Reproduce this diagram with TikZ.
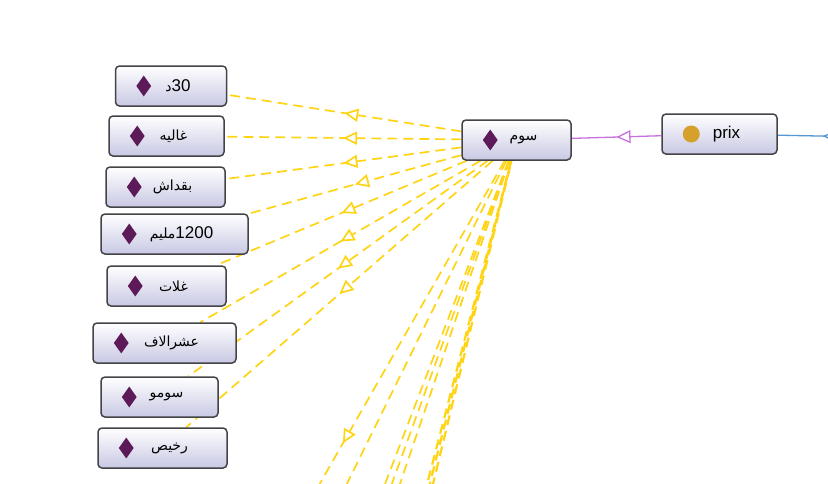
\documentclass[tikz,border=0pt]{standalone}
\usepackage{fontspec}
\setmainfont{Liberation Sans}
\newfontfamily\arabicfont[Script=Arabic]{DejaVu Sans}
\TeXXeTstate=1
\usetikzlibrary{arrows.meta,shapes.geometric,decorations.markings,backgrounds}
\definecolor{boxBorder}{RGB}{68,68,72}
\definecolor{boxBottom}{RGB}{200,200,228}
\definecolor{gemPurple}{RGB}{92,26,88}
\definecolor{dotGold}{RGB}{214,160,44}
\definecolor{instYellow}{RGB}{255,212,20}
\definecolor{subViolet}{RGB}{200,112,224}
\definecolor{propBlue}{RGB}{88,150,210}
\newcommand{\arlabel}[1]{{\arabicfont\fontsize{14}{16}\selectfont\beginR #1\endR}}
\newcommand{\ardigits}[1]{\beginL{\rmfamily\fontsize{17}{19}\selectfont #1}\endL}

\begin{document}
\begin{tikzpicture}[x=1pt,y=-1pt,
  ontobox/.style={draw=boxBorder,line width=1.5pt,rounded corners=4pt,top color=white,bottom color=boxBottom,minimum height=40pt,inner xsep=0pt,font=\fontsize{17}{19}\selectfont},
  gem/.style={diamond,fill=gemPurple,minimum width=15pt,minimum height=21pt,inner sep=0pt},
  golddot/.style={circle,fill=dotGold,minimum size=17pt,inner sep=0pt},
  midtip/.style={postaction={decorate},decoration={markings,mark=at position 0.5 with {\arrow{Triangle[open,fill=white,length=14pt,width=13pt]}}}},
  instedge/.style={instYellow,line width=1.7pt,dash pattern=on 10pt off 6pt,midtip}]
  \useasboundingbox (0,0) rectangle (828,483);
  % individuals on the left
  \foreach \n/\x/\y/\w/\lbl in {
      d30/171/86/111/{\ardigits{30}د},
      ghalia/166.5/136/115/{غاليه},
      bqadash/165.5/187/119/{بقداش},
      mlim/174.5/234/147/{\ardigits{1200}مليم},
      ghlat/166.5/286/119/{غلات},
      ashra/164.5/343/143/{عشرالاف},
      somo/159.5/397/117/{سومو},
      rkhis/162.5/448/129/{رخيص}}{
    \node[ontobox,minimum width=\w pt] (\n) at (\x,\y) {\hspace*{14pt}\arlabel{\lbl}};
    \node[gem] (\n-gem) at ([xshift=29pt]\n.west) {};
  }
  \node[ontobox,minimum width=109pt] (som) at (516.5,140) {\hspace*{14pt}\arlabel{سوم}};
  \node[gem] (som-gem) at ([xshift=29pt]som.west) {};
  \node[ontobox,minimum width=115pt] (prix) at (719.5,134) {\hspace*{14pt}prix};
  \node[golddot] (prix-dot) at ([xshift=30pt]prix.west) {};
  % free ends below and right of the frame
  \coordinate (offA) at (181,726);
  \coordinate (offB) at (144,895);
  \coordinate (offC1) at (226,900);
  \coordinate (offC2) at (241,900);
  \coordinate (offC3) at (259,900);
  \coordinate (offD1) at (319,900);
  \coordinate (offD2) at (325,900);
  \coordinate (offD3) at (332,900);
  \coordinate (offR) at (868,137);
  \begin{scope}[on background layer]
    \clip (0,0) rectangle (828,483);
    \foreach \n in {d30,ghalia,bqadash,mlim,ghlat,ashra,somo,rkhis,offA,offB,offC1,offC2,offC3}
      \draw[instedge] (som) -- (\n);
    \draw[instedge,line width=2.2pt] (som) -- (offD1);
    \draw[instedge,line width=2.2pt,dash phase=5pt] (som) -- (offD2);
    \draw[instedge,line width=2.2pt,dash phase=10pt] (som) -- (offD3);
    \draw[subViolet,line width=1.3pt,midtip] (prix) -- (som);
    \draw[propBlue,line width=1.3pt,midtip] (offR) -- (prix);
  \end{scope}
\end{tikzpicture}
\end{document}
